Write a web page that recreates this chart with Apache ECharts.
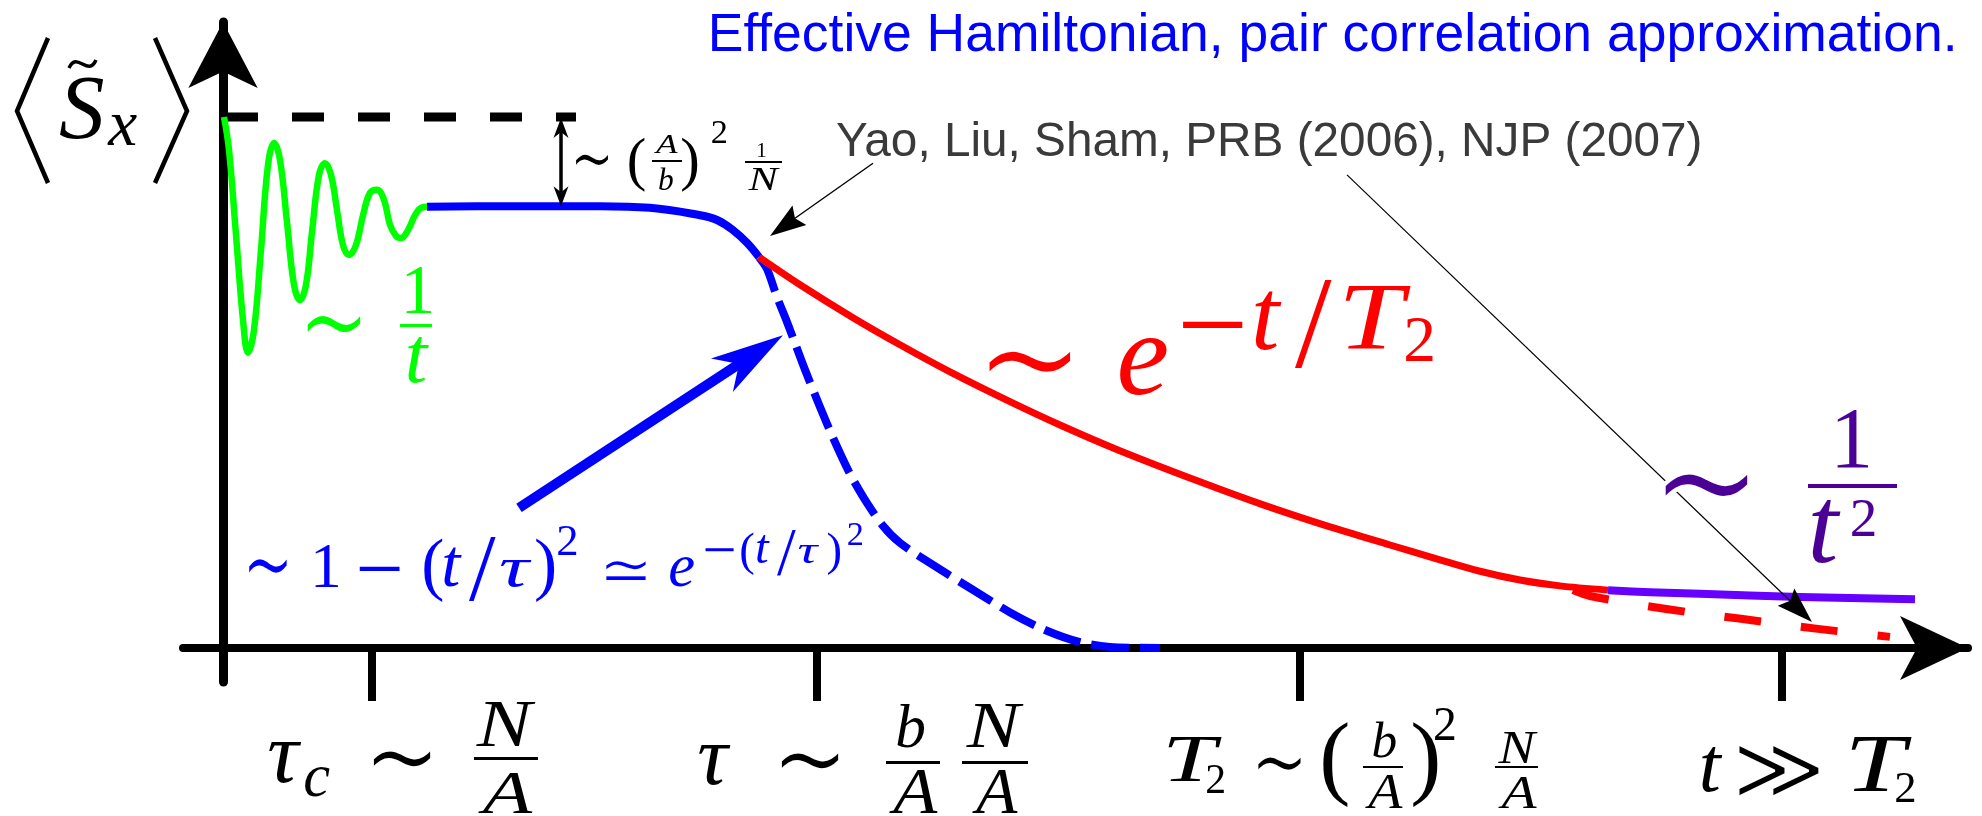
<!DOCTYPE html>
<html>
<head>
<meta charset="utf-8">
<script src="https://cdn.jsdelivr.net/npm/echarts@6/dist/echarts.min.js"></script>
<style>
  html, body { margin: 0; padding: 0; background: #ffffff; }
  #chart { width: 1982px; height: 816px; }
</style>
</head>
<body>
<div id="chart"></div>
<script>
// Time axis in arbitrary units, signal <S_x> normalised so that the initial value is 100.
const X_MIN = -4, X_MAX = 174.5, Y_MIN = -6.4, Y_MAX = 117.89;

// Characteristic times marked on the time axis: tau_c, tau, T2, t >> T2
const tickTimes = [14.9, 59.4, 107.7, 155.9];

// Initial value (dashed reference level)
const initialLevel = [[0.3, 100], [35.3, 100]];

// Fast oscillating decay ~ 1/t
const shortTime = [
  [0.1, 100.0], [0.6, 93.8], [1.3, 77.8], [2.0, 61.8], [2.5, 55.6], [3.1, 59.9], [3.8, 75.0],
  [4.5, 91.0], [5.1, 95.1], [5.7, 91.9], [6.4, 80.2], [7.1, 68.4], [7.7, 65.5], [8.3, 68.4],
  [8.9, 78.3], [9.6, 89.1], [10.2, 91.3], [10.8, 89.1], [11.4, 82.5], [12.0, 75.9], [12.6, 74.0],
  [13.3, 75.9], [14.0, 81.5], [14.7, 85.7], [15.4, 86.3], [16.1, 84.4], [16.7, 79.7], [17.3, 77.6],
  [17.8, 77.2], [18.5, 78.7], [19.2, 81.5], [19.8, 82.9], [20.4, 83.1]
];

// Plateau and onset of the decay (pair correlation)
const plateau = [
  [20.4, 83.1], [27.7, 83.2], [37.7, 83.2], [42.7, 82.9], [47.7, 81.5],
  [49.4, 80.6], [51.0, 78.7], [52.4, 76.3], [53.6, 73.6]
];

// Exponential decay ~ exp(-t/T2)
const expDecay = [
  [53.6, 73.6], [57.7, 68.4], [63.0, 62.2], [67.7, 57.1], [72.7, 52.0], [78.8, 46.3],
  [83.7, 42.0], [89.5, 37.3], [97.7, 31.3], [104.1, 26.9], [110.7, 22.8], [116.7, 19.4],
  [121.7, 16.6], [125.6, 14.5], [129.7, 12.8], [133.7, 11.7], [138.5, 10.9]
];

// Long-time power-law tail ~ 1/t^2
const powerTail = [[138.5, 10.9], [142.7, 10.5], [147.7, 10.2], [157.7, 9.6], [169.2, 9.2]];

// Gaussian decay ~ exp(-(t/tau)^2)
const gaussDecay = [
  [53.6, 73.6], [54.4, 71.4], [55.4, 66.1], [56.4, 61.4], [57.3, 56.9], [58.2, 52.4],
  [59.7, 45.4], [61.1, 39.2], [62.7, 32.8], [64.2, 27.9], [66.0, 23.0], [67.7, 19.8],
  [71.2, 15.4], [74.7, 11.3], [78.8, 6.6], [82.2, 3.4], [85.7, 1.1], [88.7, 0.2], [93.7, 0.0]
];

// Continuation of the exponential law beyond T2
const expTail = [[135.0, 10.9], [136.7, 9.8], [144.5, 7.3], [151.8, 5.5], [159.5, 3.6], [166.7, 2.1]];

const GREEN = '#00ff00', BLUE = '#0000ff', RED = '#ff0000', VIOLET = '#6600ff', INDIGO = '#4b0096';

const chart = echarts.init(document.getElementById('chart'), null, { renderer: 'canvas' });

function lineSeries(name, data, color, width, type, smooth, z) {
  return {
    name, type: 'line', data, smooth, z, symbol: 'none', showSymbol: false, silent: true,
    animation: false, lineStyle: { color, width, type: type || 'solid', cap: 'butt', join: 'round' }
  };
}

chart.setOption({
  animation: false,
  backgroundColor: '#ffffff',
  grid: { left: 183, right: 14, top: 22, bottom: 134 },
  xAxis: {
    type: 'value', min: X_MIN, max: X_MAX,
    splitLine: { show: false }, axisLabel: { show: false },
    axisLine: { onZero: true, lineStyle: { color: '#000', width: 8 }, symbol: ['none', 'arrow'], symbolSize: [48, 68] },
    axisTick: { show: true, inside: false, length: 53, lineStyle: { color: '#000', width: 8 }, customValues: tickTimes }
  },
  yAxis: {
    type: 'value', min: Y_MIN, max: Y_MAX,
    splitLine: { show: false }, axisLabel: { show: false }, axisTick: { show: false },
    axisLine: { onZero: true, lineStyle: { color: '#000', width: 9 }, symbol: ['none', 'arrow'], symbolSize: [52, 66] }
  },
  series: [
    lineSeries('initial', initialLevel, '#000000', 9, [32, 34], false, 2),
    lineSeries('oscillation', shortTime, GREEN, 6.5, 'solid', 0.4, 3),
    lineSeries('plateau', plateau, BLUE, 8, 'solid', 0.4, 3),
    lineSeries('gaussian', gaussDecay, BLUE, 8, [38, 11], 0.3, 3),
    lineSeries('expTail', expTail, RED, 8, [37, 40], 0.3, 3),
    lineSeries('exponential', expDecay, RED, 7, 'solid', 0.3, 4),
    lineSeries('powerLaw', powerTail, VIOLET, 8, 'solid', 0.3, 5)
  ]
});

// ---- formula labels: each glyph is fitted into its ink box ----
const FONTS = {
  I: 'italic {s}px "Liberation Serif"',
  R: '{s}px "Liberation Serif"',
  D: '{s}px "DejaVu Sans"',
  S: '{s}px "Liberation Sans"'
};
const mctx = document.createElement('canvas').getContext('2d');

// modes: h = fit height, w = fit width (centred), wt = fit width (top),
//        wh = fit height and stretch to width, ws = fit width and stretch to height (centred)
function fitText(str, key, box, mode, color, dx) {
  const fam = FONTS[key];
  mctx.font = fam.replace('{s}', '100');
  mctx.textBaseline = 'middle';
  mctx.textAlign = 'left';
  const m = mctx.measureText(str);
  const L = m.actualBoundingBoxLeft, Rt = m.actualBoundingBoxRight;
  const A = m.actualBoundingBoxAscent, D = m.actualBoundingBoxDescent;
  const [x1, y1, x2, y2] = box;
  const W = x2 - x1, H = y2 - y1;
  let k, sx = 1, sy = 1, centred = false;
  if (mode === 'h') { k = H / (A + D); }
  else if (mode === 'wh') { k = H / (A + D); sx = Math.min(1.45, Math.max(0.75, W / ((L + Rt) * k))); }
  else if (mode === 'ws') { k = W / (L + Rt); sy = Math.min(1.8, Math.max(1, H / ((A + D) * k))); centred = true; }
  else { k = W / (L + Rt); centred = mode === 'w'; }
  const inkW = (L + Rt) * k * sx;
  const x = x1 + dx + (W - inkW) / 2 * (mode === 'wh' ? 1 : 0) + L * k * sx;
  const y = centred ? (y1 + y2) / 2 - (D - A) / 2 * k * sy : y1 + A * k * sy;
  const size = 100 * k;
  const font = fam.replace('{s}', size.toFixed(2));
  const base = {
    text: str, x: 0, y: 0, font,
    align: 'left', verticalAlign: 'middle', textAlign: 'left', textVerticalAlign: 'middle'
  };
  const out = [{ type: 'text', silent: true, z: 100, x, y, scaleX: sx, scaleY: sy,
                 style: Object.assign({ fill: color }, base) }];
  if (key === 'D') {
    // the operator glyphs are heavier than the letters: trim them with a white outline
    out.push({ type: 'text', silent: true, z: 101, x, y, scaleX: sx, scaleY: sy,
               style: Object.assign({ fill: 'rgba(0,0,0,0)', stroke: '#ffffff', lineWidth: size * 0.026 }, base) });
  }
  return out;
}

// [glyph, font, x1, y1, x2, y2, fit]  or  ['bar', x1, y1, x2, y2]
const labelGroups = [
  { color: '#0000ff', pieces: [
    ['Effective Hamiltonian, pair correlation approximation.', 'S', 712, 12, 1953, 0, 'wt'] ] },
  { color: '#3a3a3a', pieces: [
    ['Yao, Liu, Sham, PRB (2006), NJP (2007)', 'S', 837, 121, 1700, 0, 'wt'] ] },
  { color: '#000000', pieces: [
    ['S', 'I', 60, 78, 101, 140, 'h'],
    ['x', 'I', 107, 115, 138, 145, 'h'] ] },
  { color: GREEN, pieces: [
    ['∼', 'D', 306, 313, 362, 337, 'ws'],
    ['1', 'R', 406, 267, 427, 313, 'h'],
    ['bar', 400, 324, 432, 327],
    ['t', 'I', 408, 337, 425, 383, 'h'] ] },
  { color: '#000000', pieces: [
    ['∼', 'D', 575, 153, 609, 168, 'ws'],
    ['(', 'R', 629, 138, 640, 192, 'h'],
    ['A', 'I', 654, 135, 678, 153, 'wh'],
    ['bar', 652, 160, 682, 162],
    ['b', 'I', 659, 168, 675, 190, 'h'],
    [')', 'R', 682, 138, 693, 192, 'h'],
    ['2', 'R', 712, 120, 727, 143, 'h'],
    ['1', 'R', 758, 143, 772, 157, 'h'],
    ['bar', 745, 161, 782, 163],
    ['N', 'I', 748, 168, 780, 190, 'wh'] ] },
  { color: BLUE, pieces: [
    ['∼', 'D', 248, 557, 288, 577, 'ws'],
    ['1', 'R', 315, 545, 337, 587, 'h'],
    ['−', 'R', 359, 567, 400, 571, 'w'],
    ['(', 'R', 424, 538, 440, 602, 'h'],
    ['t', 'I', 444, 548, 467, 587, 'h'],
    ['/', 'R', 469, 538, 498, 602, 'h'],
    ['τ', 'I', 498, 560, 534, 587, 'wh'],
    [')', 'R', 536, 538, 551, 602, 'h'],
    ['2', 'R', 558, 525, 578, 555, 'h'],
    ['≃', 'D', 605, 557, 647, 583, 'w'],
    ['e', 'I', 670, 558, 701, 587, 'h'],
    ['−', 'R', 705, 548, 734, 552, 'w'],
    ['(', 'R', 741, 532, 755, 575, 'h'],
    ['t', 'I', 757, 535, 772, 563, 'h'],
    ['/', 'R', 777, 530, 795, 575, 'h'],
    ['τ', 'I', 797, 545, 821, 563, 'wh'],
    [')', 'R', 828, 532, 842, 575, 'h'],
    ['2', 'R', 848, 522, 868, 545, 'h'] ] },
  { color: RED, pieces: [
    ['∼', 'D', 987, 347, 1073, 377, 'ws'],
    ['e', 'I', 1120, 338, 1169, 395, 'h'],
    ['−', 'R', 1182, 323, 1243, 328, 'w'],
    ['t', 'I', 1255, 292, 1287, 350, 'h'],
    ['/', 'R', 1295, 282, 1336, 370, 'h'],
    ['T', 'I', 1345, 287, 1411, 350, 'wh'],
    ['2', 'R', 1406, 318, 1438, 362, 'h'] ] },
  { color: INDIGO, pieces: [
    ['∼', 'D', 1663, 470, 1750, 502, 'ws'],
    ['1', 'R', 1837, 410, 1870, 467, 'h'],
    ['bar', 1808, 484, 1897, 488],
    ['t', 'I', 1812, 500, 1843, 563, 'h'],
    ['2', 'R', 1852, 500, 1885, 537, 'h'] ] },
  { color: '#000000', tick: 0, ref: 372, pieces: [
    ['τ', 'I', 269, 742, 328, 783, 'h'],
    ['c', 'I', 305, 768, 341, 797, 'h'],
    ['∼', 'D', 372, 748, 432, 770, 'ws'],
    ['N', 'I', 476, 703, 536, 747, 'wh'],
    ['bar', 474, 757, 538, 760],
    ['A', 'I', 478, 772, 533, 813, 'wh'] ] },
  { color: '#000000', tick: 1, ref: 817, pieces: [
    ['τ', 'I', 699, 745, 745, 785, 'h'],
    ['∼', 'D', 780, 750, 840, 772, 'ws'],
    ['b', 'I', 897, 705, 932, 748, 'h'],
    ['bar', 886, 761, 940, 764],
    ['A', 'I', 889, 770, 938, 813, 'wh'],
    ['N', 'I', 966, 705, 1024, 748, 'wh'],
    ['bar', 962, 761, 1028, 764],
    ['A', 'I', 972, 770, 1018, 813, 'wh'] ] },
  { color: '#000000', tick: 2, ref: 1300, pieces: [
    ['T', 'I', 1168, 738, 1222, 782, 'wh'],
    ['2', 'R', 1207, 765, 1230, 793, 'h'],
    ['∼', 'D', 1257, 755, 1302, 773, 'ws'],
    ['(', 'R', 1323, 722, 1340, 808, 'h'],
    ['b', 'I', 1373, 722, 1393, 758, 'h'],
    ['bar', 1363, 766, 1403, 768],
    ['A', 'I', 1365, 775, 1403, 808, 'wh'],
    [')', 'R', 1413, 722, 1430, 808, 'h'],
    ['2', 'R', 1435, 708, 1465, 740, 'h'],
    ['N', 'I', 1498, 733, 1538, 763, 'wh'],
    ['bar', 1495, 766, 1538, 768],
    ['A', 'I', 1498, 777, 1537, 808, 'wh'] ] },
  { color: '#000000', tick: 3, ref: 1782, pieces: [
    ['t', 'I', 1702, 747, 1727, 792, 'h'],
    ['≫', 'D', 1738, 752, 1820, 790, 'ws'],
    ['T', 'I', 1851, 737, 1912, 792, 'wh'],
    ['2', 'R', 1896, 772, 1930, 802, 'h'] ] }
];

// Annotation arrows in data coordinates: [tail, tip]
const pointerArrows = [
  { from: [29.6, 26.4], to: [56.0, 58.9], color: BLUE, width: 10, head: 73, half: 20, notch: 0.72 },
  { from: [65.0, 91.3], to: [54.7, 77.6], color: '#000', width: 1.4, head: 36, half: 12, notch: 0.85 },
  { from: [112.4, 89.1], to: [158.9, 4.9], color: '#000', width: 1.2, head: 36, half: 12, notch: 0.85 }
];
const gapArrow = { x: 33.8, y0: 99.8, y1: 83.2, width: 3.5, head: 20, half: 7.5, notch: 0.7 };

function toPx(p) { return chart.convertToPixel({ gridIndex: 0 }, p); }

function arrowHead(tail, tip, o) {
  const dx = tip[0] - tail[0], dy = tip[1] - tail[1], len = Math.hypot(dx, dy);
  const ux = dx / len, uy = dy / len, nx = -uy, ny = ux;
  const bx = tip[0] - ux * o.head, by = tip[1] - uy * o.head;
  const kx = tip[0] - ux * o.head * o.notch, ky = tip[1] - uy * o.head * o.notch;
  return {
    notch: [kx, ky],
    el: { type: 'polygon', silent: true, z: 90,
          shape: { points: [tip, [bx + nx * o.half, by + ny * o.half], [kx, ky], [bx - nx * o.half, by - ny * o.half]] },
          style: { fill: o.color || '#000' } }
  };
}

function buildGraphics() {
  const els = [];
  // angle brackets and tilde of <S~_x>
  els.push({ type: 'polyline', silent: true, z: 100, shape: { points: [[48, 38], [17, 111], [48, 183]] },
             style: { stroke: '#000', lineWidth: 4.5, fill: 'none', lineJoin: 'miter' } });
  els.push({ type: 'polyline', silent: true, z: 100, shape: { points: [[155, 38], [187, 111], [155, 183]] },
             style: { stroke: '#000', lineWidth: 4.5, fill: 'none', lineJoin: 'miter' } });
  els.push({ type: 'bezierCurve', silent: true, z: 100,
             shape: { x1: 69, y1: 68, x2: 96, y2: 60, cpx1: 77, cpy1: 50, cpx2: 88, cpy2: 78 },
             style: { stroke: '#000', lineWidth: 3.5, fill: 'none' } });

  labelGroups.forEach(g => {
    let dx = 0;
    if (g.tick != null) dx = toPx([tickTimes[g.tick], 0])[0] - g.ref;
    g.pieces.forEach(p => {
      if (p[0] === 'bar') {
        els.push({ type: 'rect', silent: true, z: 100,
                   shape: { x: p[1] + dx, y: p[2], width: p[3] - p[1], height: p[4] - p[2] },
                   style: { fill: g.color } });
      } else {
        els.push(...fitText(p[0], p[1], [p[2], p[3], p[4], p[5]], p[6], g.color, dx));
      }
    });
  });

  pointerArrows.forEach(a => {
    const t = toPx(a.from), h = toPx(a.to);
    const head = arrowHead(t, h, a);
    els.push({ type: 'line', silent: true, z: 89, shape: { x1: t[0], y1: t[1], x2: head.notch[0], y2: head.notch[1] },
               style: { stroke: a.color, lineWidth: a.width } });
    els.push(head.el);
  });

  const top = toPx([gapArrow.x, gapArrow.y0]), bot = toPx([gapArrow.x, gapArrow.y1]);
  const h1 = arrowHead(bot, top, gapArrow), h2 = arrowHead(top, bot, gapArrow);
  els.push({ type: 'line', silent: true, z: 89, shape: { x1: h1.notch[0], y1: h1.notch[1], x2: h2.notch[0], y2: h2.notch[1] },
             style: { stroke: '#000', lineWidth: gapArrow.width } });
  els.push(h1.el, h2.el);
  return els;
}

chart.setOption({ graphic: { elements: buildGraphics() } });
</script>
</body>
</html>
